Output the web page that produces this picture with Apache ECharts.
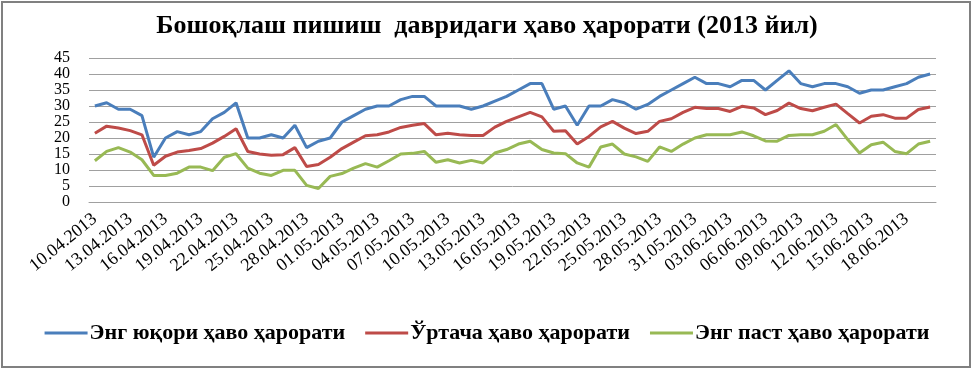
<!DOCTYPE html>
<html>
<head>
<meta charset="utf-8">
<script src="https://cdn.jsdelivr.net/npm/echarts@6/dist/echarts.min.js"></script>
<style>
  html, body { margin: 0; padding: 0; background: #fff; }
  #chart { width: 974px; height: 371px; }
</style>
</head>
<body>
<div id="chart"></div>
<script>
// сана (10.04.2013 - 20.06.2013)
var dates = [
  '10.04.2013','11.04.2013','12.04.2013','13.04.2013','14.04.2013','15.04.2013','16.04.2013','17.04.2013',
  '18.04.2013','19.04.2013','20.04.2013','21.04.2013','22.04.2013','23.04.2013','24.04.2013','25.04.2013',
  '26.04.2013','27.04.2013','28.04.2013','29.04.2013','30.04.2013','01.05.2013','02.05.2013','03.05.2013',
  '04.05.2013','05.05.2013','06.05.2013','07.05.2013','08.05.2013','09.05.2013','10.05.2013','11.05.2013',
  '12.05.2013','13.05.2013','14.05.2013','15.05.2013','16.05.2013','17.05.2013','18.05.2013','19.05.2013',
  '20.05.2013','21.05.2013','22.05.2013','23.05.2013','24.05.2013','25.05.2013','26.05.2013','27.05.2013',
  '28.05.2013','29.05.2013','30.05.2013','31.05.2013','01.06.2013','02.06.2013','03.06.2013','04.06.2013',
  '05.06.2013','06.06.2013','07.06.2013','08.06.2013','09.06.2013','10.06.2013','11.06.2013','12.06.2013',
  '13.06.2013','14.06.2013','15.06.2013','16.06.2013','17.06.2013','18.06.2013','19.06.2013','20.06.2013'
];

// энг юқори ҳаво ҳарорати
var maxTemp = [
  30, 31, 29, 29, 27, 14, 20, 22, 21, 22, 26, 28, 31, 20, 20, 21, 20, 24, 17, 19,
  20, 25, 27, 29, 30, 30, 32, 33, 33, 30, 30, 30, 29, 30, 31.5, 33, 35, 37, 37, 29,
  30, 24, 30, 30, 32, 31, 29, 30.5, 33, 35, 37, 39, 37, 37, 36, 38, 38, 35, 38, 41,
  37, 36, 37, 37, 36, 34, 35, 35, 36, 37, 39, 40
];
// ўртача ҳаво ҳарорати
var avgTemp = [
  21.5, 23.7, 23.1, 22.3, 21, 11.5, 14.3, 15.6, 16.1, 16.7, 18.4, 20.5, 22.9, 15.8, 15, 14.6, 14.8, 17, 11.1, 11.7,
  14, 16.7, 18.7, 20.7, 21, 21.9, 23.3, 24, 24.5, 21, 21.5, 21, 20.8, 20.8, 23.4, 25.2, 26.6, 28, 26.6, 22.1,
  22.3, 18.1, 20.5, 23.5, 25.2, 23.1, 21.4, 22.1, 25.2, 26, 28, 29.6, 29.2, 29.2, 28.3, 29.9, 29.4, 27.3, 28.6, 30.9,
  29.2, 28.5, 29.6, 30.6, 27.6, 24.7, 26.8, 27.3, 26.2, 26.2, 28.9, 29.7
];
// энг паст ҳаво ҳарорати
var minTemp = [
  12.9, 15.8, 17, 15.6, 13.2, 8.3, 8.3, 9, 10.9, 10.9, 9.8, 14, 15.1, 10.6, 9, 8.3, 9.9, 9.9, 5.2, 4.2,
  8, 8.9, 10.6, 12, 10.9, 12.9, 15, 15.2, 15.8, 12.4, 13.2, 12.2, 13, 12.2, 15.3, 16.4, 18.1, 19, 16.4, 15.3,
  15.1, 12.2, 10.9, 17.2, 18.1, 15, 14.1, 12.7, 17.2, 15.8, 18.1, 20, 21, 21, 21, 21.9, 20.7, 19.1, 19, 20.8,
  21, 21, 22.1, 24.2, 19.5, 15.3, 17.9, 18.7, 15.8, 15.1, 18.1, 19
];

var seriesNames = ['Энг юқори ҳаво ҳарорати', 'Ўртача ҳаво ҳарорати', 'Энг паст ҳаво ҳарорати'];
var colors = ['#4a7ebb', '#be4b48', '#98b954'];

var chart = echarts.init(document.getElementById('chart'));

var makeLine = function(name, data, color) {
	return {
		name : name,
		type : 'line',
		data : data,
		showSymbol : false,
		symbol : 'none',
		lineStyle : { color : color, width : 3 },
		itemStyle : { color : color }
	};
};

var option = {
	animation : false,
	backgroundColor : '#fff',
	color : colors,
	title : {
		text : 'Бошоқлаш пишиш  давридаги ҳаво ҳарорати (2013 йил)',
		left : 'center',
		top : 8,
		textStyle : {
			fontFamily : 'Liberation Serif',
			fontWeight : 'bold',
			fontSize : 26,
			color : '#000'
		}
	},
	legend : {
		data : seriesNames,
		bottom : 22,
		left : 'center',
		icon : 'rect',
		itemWidth : 43,
		itemHeight : 3,
		itemGap : 20,
		textStyle : {
			fontFamily : 'Liberation Serif',
			fontWeight : 'bold',
			fontSize : 22,
			color : '#000',
			padding : [0, 0, 0, -3]
		}
	},
	grid : {
		left : 89,
		right : 38,
		top : 58,
		height : 144,
		containLabel : false
	},
	xAxis : {
		type : 'category',
		boundaryGap : true,
		data : dates,
		axisLine : { show : true, lineStyle : { color : '#a0a0a0' } },
		axisTick : { show : false },
		axisLabel : {
			interval : 2,
			rotate : 39,
			margin : 15,
			fontFamily : 'Liberation Serif',
			fontSize : 18,
			color : '#000'
		}
	},
	yAxis : {
		type : 'value',
		min : 0,
		max : 45,
		interval : 5,
		axisLine : { show : false },
		axisTick : { show : false },
		axisLabel : {
			margin : 19,
			showMinLabel : true,
			showMaxLabel : true,
			hideOverlap : false,
			fontFamily : 'Liberation Serif',
			fontSize : 16,
			lineHeight : 14,
			color : '#000'
		},
		splitLine : { lineStyle : { color : '#a0a0a0', width : 1 } }
	},
	graphic : [ {
		type : 'rect',
		shape : { x : 2, y : 2, width : 968, height : 365 },
		style : { fill : null, stroke : '#808080', lineWidth : 2 },
		silent : true
	} ],
	series : [
		makeLine(seriesNames[0], maxTemp, colors[0]),
		makeLine(seriesNames[1], avgTemp, colors[1]),
		makeLine(seriesNames[2], minTemp, colors[2])
	]
};
chart.setOption(option);
</script>
</body>
</html>
